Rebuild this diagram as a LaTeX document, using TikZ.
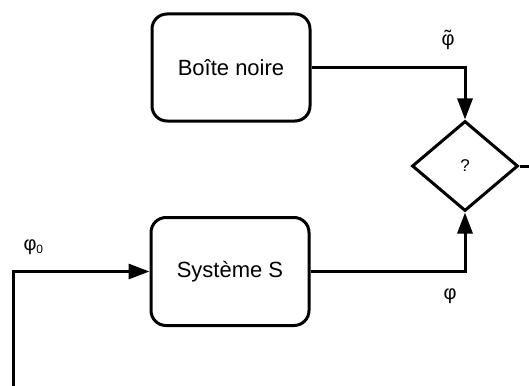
\documentclass[tikz,border=0pt]{standalone}
\usepackage{fontspec}
\setmainfont{Liberation Sans}
\usetikzlibrary{arrows.meta,shapes.geometric}
\newcommand{\phitilde}{\ooalign{φ\cr\hidewidth\raisebox{0.05ex}{˜}\hidewidth\cr}}
\begin{document}
\begin{tikzpicture}[x=1pt,y=-1pt,line width=3pt,
  box/.style={draw,rounded corners=15pt,minimum width=158pt,minimum height=107pt,inner sep=0pt,font=\fontsize{22}{26}\selectfont},
  decision/.style={draw,diamond,minimum width=106pt,minimum height=90pt,inner sep=0pt,font=\fontsize{17}{20}\selectfont},
  lbl/.style={inner sep=0pt,font=\fontsize{20}{24}\selectfont},
  arr/.style={-{Triangle[length=21pt,width=15pt]}}]
\useasboundingbox (0,0) rectangle (529,385);
\node[box] (bn) at (231,67.5) {Boîte noire};
\node[box,minimum height=108pt] (sys) at (230,271.5) {Système S};
\node[decision] (q) at (465,166) {?};
\coordinate (start) at (13,386);
\coordinate (out) at (530,166);
\draw[arr] (bn.east) -| (q.north);
\draw[arr] (sys.east) -| (q.south);
\draw[arr] (start) |- (sys.west);
\draw (q.east) -- (out);
\node[lbl] (ltilde) at (448,40) {\phitilde};
\node[lbl] (lphi) at (450,296) {φ};
\node[lbl,anchor=base west] (lphi0) at (22,250) {φ\raisebox{-0.3ex}{\fontsize{12}{12}\selectfont 0}};
\end{tikzpicture}
\end{document}
